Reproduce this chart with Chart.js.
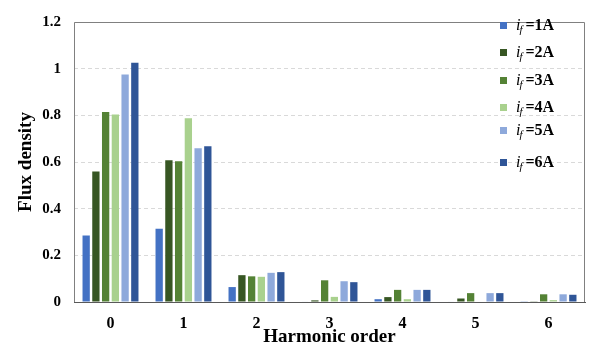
<!DOCTYPE html>
<html>
<head>
<meta charset="utf-8">
<script src="https://cdn.jsdelivr.net/npm/chart.js@4.4.1/dist/chart.umd.min.js"></script>
<style>
  html, body { margin: 0; padding: 0; background: #fff; }
  #wrap { width: 599px; height: 354px; }
</style>
</head>
<body>
<div id="wrap"><canvas id="fluxChart" width="599" height="354"></canvas></div>
<script>
// harmonic orders on the x axis
var orders = ['0', '1', '2', '3', '4', '5', '6'];

// flux density per field current
var if1A = [0.285, 0.314, 0.064, 0.002, 0.012, 0.002, 0.003];
var if2A = [0.559, 0.608, 0.115, 0.007, 0.021, 0.015, 0.003];
var if3A = [0.814, 0.603, 0.110, 0.093, 0.052, 0.038, 0.033];
var if4A = [0.804, 0.788, 0.108, 0.022, 0.012, 0.000, 0.008];
var if5A = [0.975, 0.659, 0.125, 0.089, 0.052, 0.038, 0.033];
var if6A = [1.025, 0.667, 0.128, 0.085, 0.052, 0.038, 0.031];

var currents = ['1A', '2A', '3A', '4A', '5A', '6A'];
var colors = ['#4472C4', '#375623', '#548235', '#A9D18E', '#8EA9DB', '#2F5597'];
var series = [if1A, if2A, if3A, if4A, if5A, if6A];

var serif = '"Liberation Serif", "Times New Roman", serif';

// frame around the plot + legend drawn inside the plot area
var framePlugin = {
    id: 'frame',
    afterDraw: function (chart) {
        var ctx = chart.ctx, a = chart.chartArea;
        ctx.save();
        ctx.strokeStyle = '#808080';
        ctx.lineWidth = 1;
        ctx.beginPath();
        ctx.moveTo(Math.round(a.left) + 0.5, Math.round(a.bottom));
        ctx.lineTo(Math.round(a.left) + 0.5, Math.round(a.top) + 0.5);
        ctx.lineTo(Math.round(a.right) - 0.5, Math.round(a.top) + 0.5);
        ctx.lineTo(Math.round(a.right) - 0.5, Math.round(a.bottom));
        ctx.stroke();

        var ys = [26, 53, 81, 108, 131, 163];
        ctx.textBaseline = 'middle';
        currents.forEach(function (c, i) {
            var y = ys[i];
            ctx.fillStyle = colors[i];
            ctx.fillRect(500, y - 4, 7, 7);
            var x = 516;
            ctx.fillStyle = '#000';
            ctx.font = 'italic 16px ' + serif;
            ctx.fillText('i', x, y);
            x += ctx.measureText('i').width - 1;
            ctx.font = 'italic 11px ' + serif;
            ctx.fillText('f', x, y + 4);
            x += ctx.measureText('f').width + 3;
            ctx.font = 'bold 16px ' + serif;
            ctx.fillText('=' + c, x, y);
        });
        ctx.restore();
    }
};

var config = {
    type: 'bar',
    data: {
        labels: orders,
        datasets: series.map(function (s, i) {
            return {
                label: 'if=' + currents[i],
                data: s,
                backgroundColor: colors[i],
                borderWidth: 0,
                barPercentage: 0.75,
                categoryPercentage: 0.8
            };
        })
    },
    options: {
        responsive: false,
        animation: false,
        layout: { padding: { left: 15, top: 9, right: 14, bottom: 0 } },
        plugins: {
            legend: { display: false },
            tooltip: { enabled: false }
        },
        scales: {
            x: {
                grid: { display: false },
                border: { color: '#595959', width: 1 },
                ticks: { color: '#000', font: { family: serif, size: 16, weight: 'bold' }, padding: 4 },
                title: {
                    display: true,
                    text: 'Harmonic order',
                    color: '#000',
                    font: { family: serif, size: 19, weight: 'bold' },
                    padding: { top: 0, bottom: 6 }
                },
                afterFit: function (scale) { scale.height = 52; }
            },
            y: {
                min: 0,
                max: 1.2,
                ticks: {
                    stepSize: 0.2,
                    color: '#000',
                    font: { family: serif, size: 15, weight: 'bold' },
                    padding: 13,
                    callback: function (v) { return String(Math.round(v * 10) / 10); }
                },
                grid: {
                    color: '#d9d9d9',
                    drawTicks: false
                },
                border: { display: false, dash: [4, 3] },
                title: {
                    display: true,
                    text: 'Flux density',
                    color: '#000',
                    font: { family: serif, size: 19, weight: 'bold' },
                    padding: { top: 0, bottom: 0 }
                },
                afterFit: function (scale) { scale.width = 59; }
            }
        }
    },
    plugins: [framePlugin]
};

var ctx = document.getElementById('fluxChart').getContext('2d');
window.fluxChart = new Chart(ctx, config);
</script>
</body>
</html>
